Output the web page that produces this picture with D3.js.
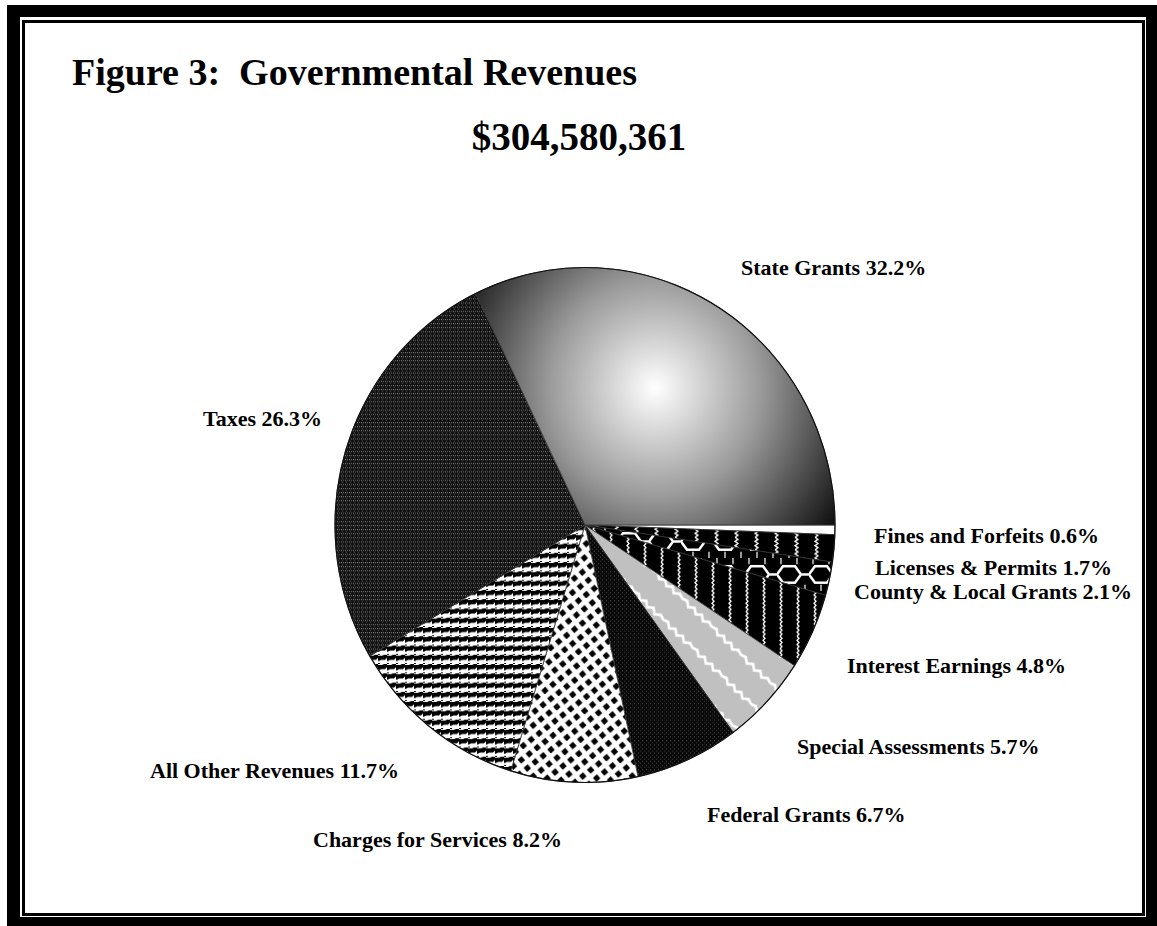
<!DOCTYPE html>
<html>
<head>
<meta charset="utf-8">
<script src="https://cdn.jsdelivr.net/npm/d3@7"></script>
<style>
  body { margin: 0; background: #fff; }
  text { font-family: "Liberation Serif", "Times New Roman", serif; font-weight: bold; fill: #000; }
</style>
</head>
<body>
<svg id="chart" width="1157" height="926"></svg>
<script>
// data, clockwise from 3 o'clock
var categories = ["Fines and Forfeits", "Licenses & Permits", "County & Local Grants",
                  "Interest Earnings", "Special Assessments", "Federal Grants",
                  "Charges for Services", "All Other Revenues", "Taxes", "State Grants"];
var shares = [0.6, 1.7, 2.1, 4.8, 5.7, 6.7, 8.2, 11.7, 26.3, 32.2];
var totalLabel = "$304,580,361";
var titleText = "Figure 3:  Governmental Revenues";

// label anchors (left edge, baseline)
var labelPos = [[874, 543], [875, 575], [854, 599], [847, 673], [797, 754],
                [707, 822], [313, 847], [150, 778], [203, 426], [741, 275]];
var fills = ["#fff", "url(#pLic)", "url(#pCounty)", "url(#pInt)", "url(#pSpec)",
             "url(#pFed)", "url(#pChg)", "url(#pOther)", "url(#pTax)", "url(#gState)"];

var svg = d3.select("#chart");
var cx = 585, cy = 525, r = 250, sy = 1.03;

/*
 * frame: thick black border with thin inner rule
 */
svg.append("rect").attr("x", 7).attr("y", 5).attr("width", 1150).attr("height", 921).attr("fill", "#000");
svg.append("rect").attr("x", 20).attr("y", 17).attr("width", 1126).attr("height", 900).attr("fill", "#fff");
svg.append("rect").attr("x", 23.5).attr("y", 21.5).attr("width", 1120).attr("height", 893)
    .attr("fill", "#fff").attr("stroke", "#000").attr("stroke-width", 3);

var defs = svg.append("defs");

// state grants - shaded sphere look
var grad = defs.append("radialGradient").attr("id", "gState")
    .attr("gradientUnits", "userSpaceOnUse")
    .attr("cx", 70).attr("cy", -133).attr("r", 235);
grad.append("stop").attr("offset", 0).attr("stop-color", "#fff");
grad.append("stop").attr("offset", 0.45).attr("stop-color", "#9a9a9a");
grad.append("stop").attr("offset", 1).attr("stop-color", "#000");

function pattern(id, w, h, bg, transform) {
    var p = defs.append("pattern").attr("id", id)
        .attr("patternUnits", "userSpaceOnUse")
        .attr("width", w).attr("height", h);
    if (transform) p.attr("patternTransform", transform);
    p.append("rect").attr("width", w).attr("height", h).attr("fill", bg);
    return p;
}

// taxes - dark fine texture in horizontal rows
var pTax = pattern("pTax", 4, 4, "#121212");
pTax.append("rect").attr("x", 0).attr("y", 0).attr("width", 1).attr("height", 1).attr("fill", "#8a8a8a");
pTax.append("rect").attr("x", 2).attr("y", 0).attr("width", 1).attr("height", 1).attr("fill", "#6a6a6a");
pTax.append("rect").attr("x", 1).attr("y", 2).attr("width", 1).attr("height", 1).attr("fill", "#505050");

// federal - near black with faint dots
var pFed = pattern("pFed", 4, 4, "#080808");
pFed.append("rect").attr("x", 1).attr("y", 1).attr("width", 1).attr("height", 1).attr("fill", "#5a5a5a");
pFed.append("rect").attr("x", 3).attr("y", 3).attr("width", 1).attr("height", 1).attr("fill", "#3a3a3a");

// all other - houndstooth rows
var pOther = pattern("pOther", 9, 9, "#fff");
pOther.append("path").attr("d", "M0,1 h4 l2,-1 h3 v3 l-2,2 h-4 l-2,1 h-1 z M0,8 h2 v1 h-2 z").attr("fill", "#000");

// charges - black blobs in a diagonal lattice
var pChg = pattern("pChg", 14, 14, "#fff", "rotate(8)");
pChg.append("path").attr("d", "M3.5,0 l4,3.5 l-3.5,4 l-4,-3.5 z M10.5,7 l4,3.5 l-3.5,4 l-4,-3.5 z M-3.5,7 l4,3.5 l-3.5,4 l-4,-3.5 z").attr("fill", "#000");

// special assessments - gray with white zigzag radial lines
var pSpec = pattern("pSpec", 40, 28, "#c0c0c0", "rotate(43)");
pSpec.append("path").attr("d", "M0,14 l5,-2 l5,4 l5,-4 l5,4 l5,-4 l5,4 l5,-4 l5,2")
    .attr("fill", "none").attr("stroke", "#fff").attr("stroke-width", 2.5);

// interest - black with vertical white wavy lines
var pInt = pattern("pInt", 17, 12, "#000");
pInt.append("path").attr("d", "M8,0 l2,2 l-2,2 l2,2 l-2,2 l2,2 l-2,2")
    .attr("fill", "none").attr("stroke", "#fff").attr("stroke-width", 1.3);

// licenses - black with sparse white zigzag strokes
var pLic = pattern("pLic", 20, 12, "#000");
pLic.append("path").attr("d", "M10,0 l3,2 l-3,2 l3,2 l-3,2 l3,2 l-3,2")
    .attr("fill", "none").attr("stroke", "#fff").attr("stroke-width", 1.3);

// county - white hexagon chain on black
var pCounty = pattern("pCounty", 32, 32, "#000");
pCounty.append("path").attr("d", "M0,16 L6,8 L18,8 L24,16 L18,24 L6,24 Z M24,16 H32")
    .attr("fill", "none").attr("stroke", "#fff").attr("stroke-width", 2.5);
pCounty.append("path").attr("d", "M4,0 v6 M20,0 v6 M12,26 v6 M28,26 v6")
    .attr("fill", "none").attr("stroke", "#fff").attr("stroke-width", 1.2);

/*
 * pie slices
 */
var pie = d3.pie().sort(null).value(function(d) { return d; })
    .startAngle(Math.PI / 2).endAngle(Math.PI / 2 + 2 * Math.PI);
var arc = d3.arc().innerRadius(0).outerRadius(r);

var g = svg.append("g")
    .attr("transform", "translate(" + cx + "," + cy + ") scale(1," + sy + ")");

g.selectAll("path.slice")
    .data(pie(shares))
    .enter().append("path")
    .attr("class", "slice")
    .attr("d", arc)
    .attr("fill", function(d, i) { return fills[i]; })
    .attr("stroke", "#333")
    .attr("stroke-width", 0.8)
    .attr("vector-effect", "non-scaling-stroke");

// outer rim
g.append("circle").attr("r", r).attr("fill", "none")
    .attr("stroke", "#111").attr("stroke-width", 1.2)
    .attr("vector-effect", "non-scaling-stroke");

/*
 * titles and labels
 */
svg.append("text")
    .attr("x", 72).attr("y", 85)
    .style("font-size", "38px").style("white-space", "pre")
    .attr("textLength", 565).attr("lengthAdjust", "spacingAndGlyphs")
    .text(titleText);

svg.append("text")
    .attr("x", 579).attr("y", 150)
    .attr("text-anchor", "middle")
    .style("font-size", "39px")
    .text(totalLabel);

svg.selectAll("text.lbl")
    .data(categories)
    .enter().append("text")
    .attr("class", "lbl")
    .attr("x", function(d, i) { return labelPos[i][0]; })
    .attr("y", function(d, i) { return labelPos[i][1]; })
    .style("font-size", "22px")
    .text(function(d, i) { return d + " " + shares[i].toFixed(1) + "%"; });
</script>
</body>
</html>
